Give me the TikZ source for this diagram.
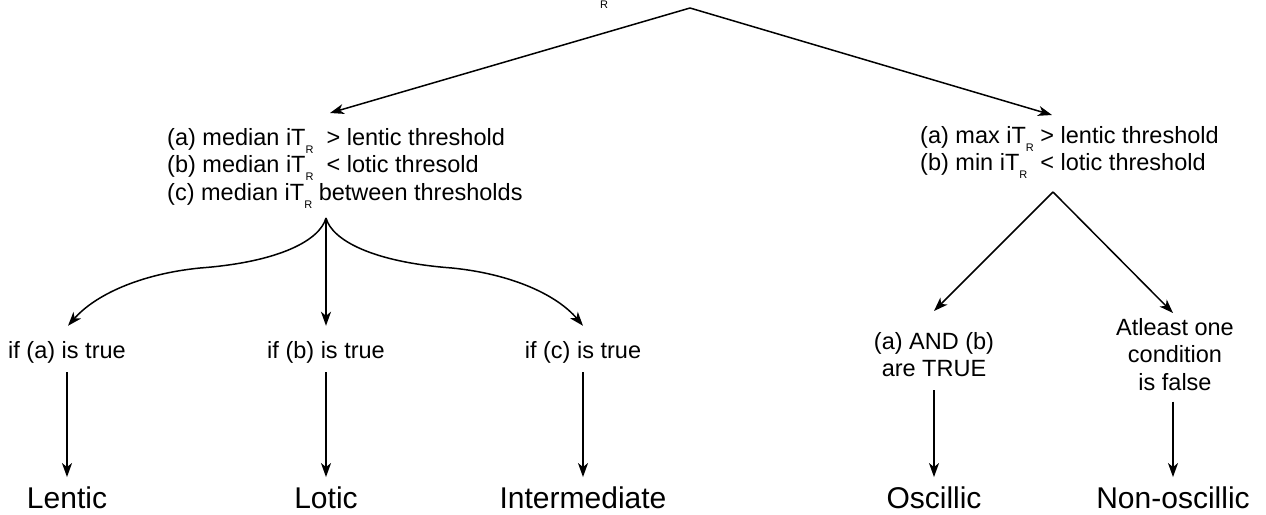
\documentclass[tikz,border=0pt]{standalone}
\usepackage{fontspec}
\setmainfont{Liberation Sans}
\usetikzlibrary{arrows.meta,calc}
\newcommand\subR{\raisebox{-8pt}{\fontsize{11}{11}\selectfont R}}
\begin{document}
\begin{tikzpicture}[x=1pt,y=-1pt,
  arr/.style={-{Stealth[length=14pt,width=10pt,inset=4pt]}, line width=1.5pt},
  small/.style={font=\fontsize{23.5}{27.5}\selectfont, inner sep=0pt},
  big/.style={font=\fontsize{30}{34}\selectfont, inner sep=0pt, anchor=base}]
\useasboundingbox (0,0) rectangle (1266,514);
% cut-off root label
\node[anchor=base, inner sep=0pt, font=\fontsize{11}{11}\selectfont] (topR) at (604,9) {R};
\coordinate (root) at (690,8);
% left block
\node[small, anchor=north west, align=left] (lb) at (167,128)
  {(a) median iT\subR\ \ > lentic threshold\\(b) median iT\subR\ \ < lotic thresold\\(c) median iT\subR\ between thresholds};
\coordinate (lbtip) at (330,113);
\coordinate (lf) at (326,218);
% right block
\node[small, anchor=north west, align=left] (rb) at (920,126)
  {(a) max iT\subR\ > lentic threshold\\(b) min iT\subR\ \ < lotic threshold};
\coordinate (rbtip) at (1052,115);
\coordinate (rf) at (1053,192);
% condition nodes
\node[small, anchor=base] (ifa) at (67,358) {if (a) is true};
\node[small, anchor=base] (ifb) at (326,358) {if (b) is true};
\node[small, anchor=base] (ifc) at (583,358) {if (c) is true};
\node[small, anchor=north, align=center] (andn) at (934,332) {(a) AND (b)\\are TRUE};
\node[small, anchor=north, align=center] (atl) at (1175,318) {Atleast one\\condition\\is false};
% results
\node[big] (lentic) at (67,508) {Lentic};
\node[big] (lotic) at (326,508) {Lotic};
\node[big] (inter) at (583,508) {Intermediate};
\node[big] (osc) at (934,508) {Oscillic};
\node[big] (nonosc) at (1173,508) {Non-oscillic};
% connectors
\draw[arr] (root) -- (lbtip);
\draw[arr] (root) -- (rbtip);
\draw[arr] (lf) .. controls (320,240) and (280,262) .. (200,268)
  .. controls (140,274) and (95,295) .. ($(ifa.north)+(1,-15)$);
\draw[arr] (lf) -- ($(ifb.north)+(0,-15)$);
\draw[arr] (lf) .. controls (332,240) and (372,262) .. (452,268)
  .. controls (512,274) and (557,295) .. ($(ifc.north)+(0,-15)$);
\draw[arr] (rf) -- ($(andn.north)+(0,-21)$);
\draw[arr] (rf) -- ($(atl.north)+(-2,-5)$);
\draw[arr] ($(ifa.south)+(0,9)$) -- ($(lentic.north)+(0,-9)$);
\draw[arr] ($(ifb.south)+(0,9)$) -- ($(lotic.north)+(0,-9)$);
\draw[arr] ($(ifc.south)+(0,9)$) -- ($(inter.north)+(0,-9)$);
\draw[arr] ($(andn.south)+(0,13)$) -- ($(osc.north)+(0,-9)$);
\draw[arr] ($(nonosc.north |- atl.south)+(0,11)$) -- ($(nonosc.north)+(0,-9)$);
\end{tikzpicture}
\end{document}
